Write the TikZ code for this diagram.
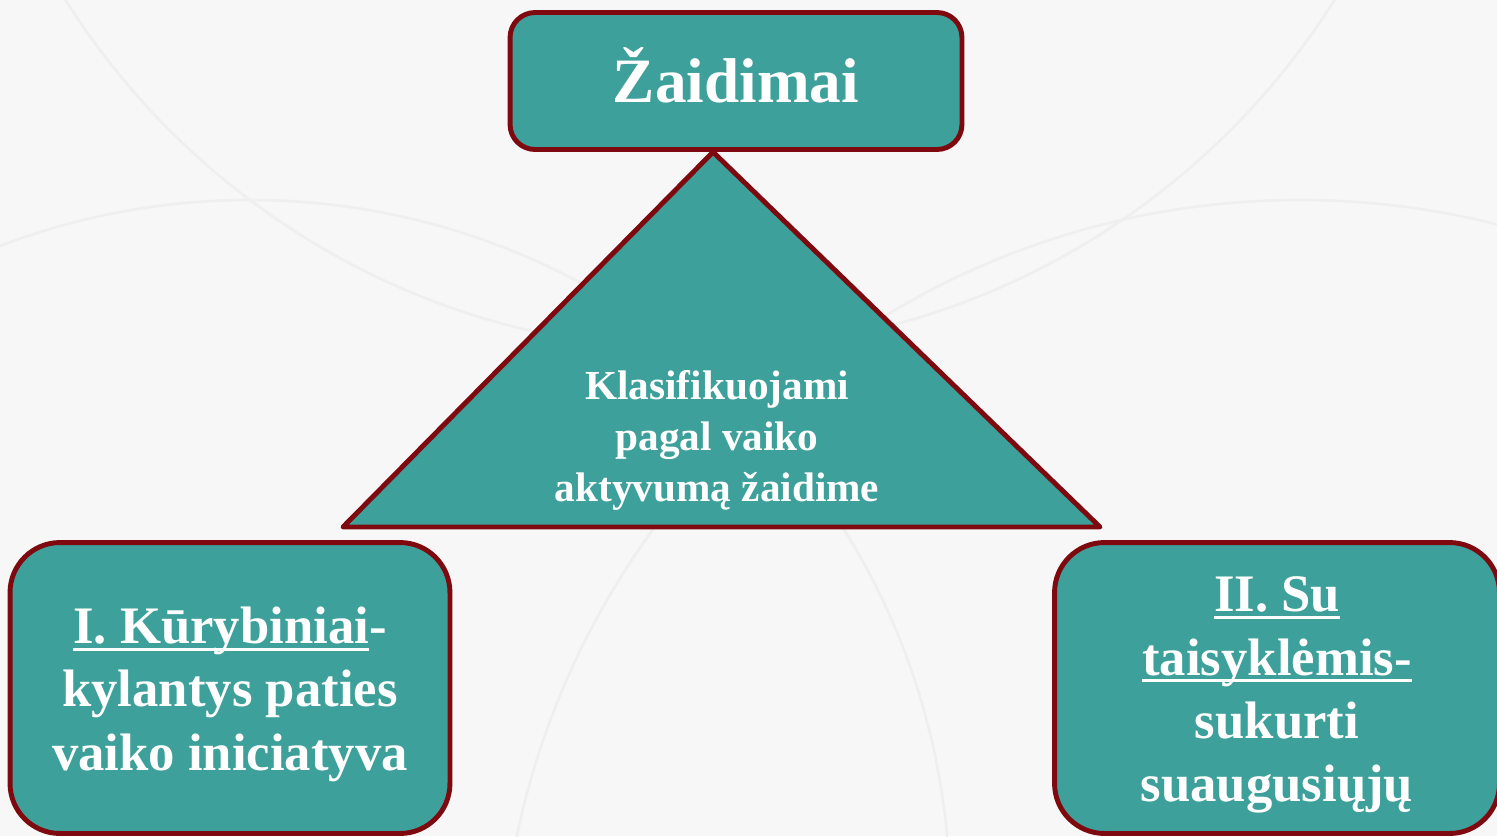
\documentclass[tikz,border=0pt]{standalone}
\usepackage{fontspec}
\setmainfont{Liberation Serif}
\usetikzlibrary{calc}
\definecolor{boxteal}{HTML}{3DA09A}
\definecolor{boxred}{HTML}{7E0A10}
\definecolor{paper}{HTML}{F7F7F7}
\definecolor{swirl}{HTML}{EFEFEF}
\newcommand{\ulin}[1]{\setbox0\hbox{#1}\rlap{\rule[-4pt]{\wd0}{1.6pt}}\box0}
\newcommand{\lowtext}[1]{\raisebox{-3.5pt}[\height][\depth]{\begin{tabular}{@{}c@{}}#1\end{tabular}}}

\begin{document}
\begin{tikzpicture}[x=0.02cm,y=-0.02cm]
	\tikzstyle{topbox} = [rectangle, rounded corners=0.5cm, minimum width=9.04cm, minimum height=2.74cm, draw=boxred, fill=boxteal, line width=2.8pt, text=white, font=\bfseries\fontsize{36}{40}\selectfont]
	\tikzstyle{sidebox} = [rectangle, rounded corners=1cm, minimum width=8.8cm, minimum height=5.82cm, draw=boxred, fill=boxteal, line width=2.8pt, text=white, align=center, font=\bfseries\fontsize{30}{36}\selectfont]
	\tikzstyle{tri} = [draw=boxred, fill=boxteal, line width=2.8pt, line join=round]
	\tikzstyle{tritext} = [text=white, align=center, font=\bfseries\fontsize{23.5}{29}\selectfont]
  % background
  \useasboundingbox (0,0) rectangle (1497,836);
  \fill[paper] (0,0) rectangle (1497,836);
  \begin{scope}
    \clip (0,0) rectangle (1497,836);
    \draw[swirl, line width=1.5pt] (250,900) circle (700);
    \draw[swirl, line width=1.5pt] (1300,1000) circle (800);
    \draw[swirl, line width=1.5pt] (700,-400) circle (750);
  \end{scope}

  % top node
  \node(zaid)[topbox] at (736,81) {\raisebox{3pt}[\height][\depth]{Žaidimai}};

  % triangle
  \coordinate (apex) at (713,152);
  \coordinate (tl) at (343,527);
  \coordinate (tr) at (1100,527);
  \draw[tri] (apex) -- (tr) -- (tl) -- cycle;
  \node(klas)[tritext] at (717,440) {Klasifikuojami\\pagal vaiko\\aktyvumą žaidime};

  % bottom nodes
  \node(kur)[sidebox] at (230,688) {\lowtext{\ulin{I. Kūrybiniai}-\\kylantys paties\\vaiko iniciatyva}};
  \node(tais)[sidebox, minimum width=8.9cm] at (1277,688) {\lowtext{\ulin{II. Su}\\\ulin{taisyklėmis-}\\sukurti\\suaugusiųjų}};
\end{tikzpicture}
\end{document}
